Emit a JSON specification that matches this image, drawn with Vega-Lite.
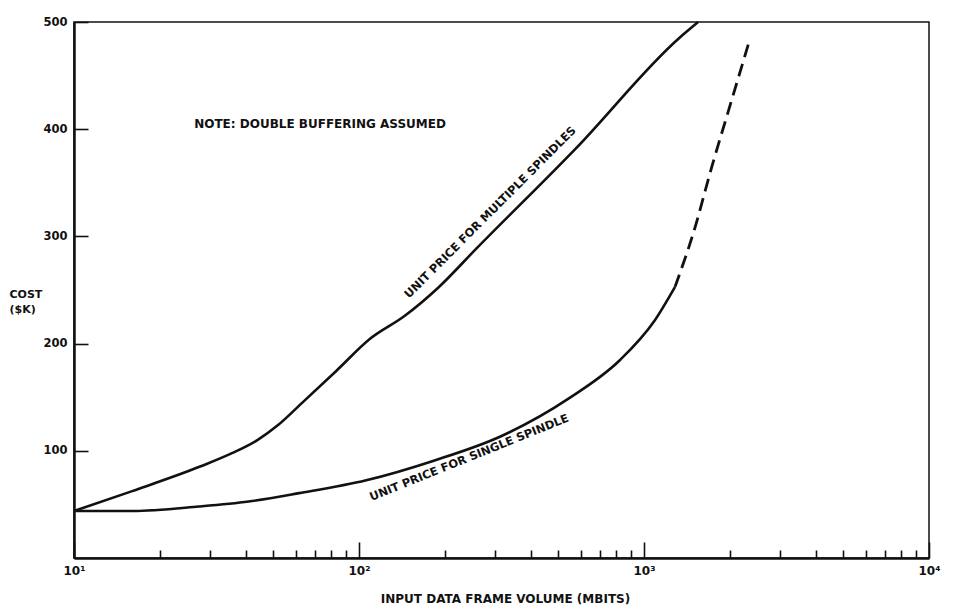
{
  "$schema": "https://vega.github.io/schema/vega-lite/v6.json",
  "width": 855,
  "height": 536,
  "autosize": {"type": "none"},
  "padding": {"left": 74, "top": 22, "right": 26, "bottom": 54},
  "background": "white",
  "config": {
    "view": {"stroke": "#111", "strokeWidth": 1.5},
    "font": "DejaVu Sans"
  },
  "datasets": {
    "curves": [
      {"series": "multiple", "segment": "solid", "volume": 10, "cost": 43.8},
      {"series": "multiple", "segment": "solid", "volume": 16, "cost": 62.4},
      {"series": "multiple", "segment": "solid", "volume": 27.7, "cost": 85.3},
      {"series": "multiple", "segment": "solid", "volume": 36, "cost": 98},
      {"series": "multiple", "segment": "solid", "volume": 44, "cost": 110},
      {"series": "multiple", "segment": "solid", "volume": 52, "cost": 124},
      {"series": "multiple", "segment": "solid", "volume": 63, "cost": 144.5},
      {"series": "multiple", "segment": "solid", "volume": 83.2, "cost": 174.5},
      {"series": "multiple", "segment": "solid", "volume": 109.6, "cost": 204.7},
      {"series": "multiple", "segment": "solid", "volume": 144, "cost": 225.5},
      {"series": "multiple", "segment": "solid", "volume": 190, "cost": 252.4},
      {"series": "multiple", "segment": "solid", "volume": 258, "cost": 288.6},
      {"series": "multiple", "segment": "solid", "volume": 577, "cost": 382.1},
      {"series": "multiple", "segment": "solid", "volume": 1327, "cost": 484.9},
      {"series": "multiple", "segment": "solid", "volume": 1549, "cost": 500},
      {"series": "single", "segment": "solid", "volume": 10, "cost": 43.8},
      {"series": "single", "segment": "solid", "volume": 16, "cost": 43.8},
      {"series": "single", "segment": "solid", "volume": 27.4, "cost": 48},
      {"series": "single", "segment": "solid", "volume": 41, "cost": 52.7},
      {"series": "single", "segment": "solid", "volume": 61.7, "cost": 60.5},
      {"series": "single", "segment": "solid", "volume": 106, "cost": 72.5},
      {"series": "single", "segment": "solid", "volume": 183, "cost": 90.8},
      {"series": "single", "segment": "solid", "volume": 315, "cost": 113.6},
      {"series": "single", "segment": "solid", "volume": 545, "cost": 148.9},
      {"series": "single", "segment": "solid", "volume": 824, "cost": 184.7},
      {"series": "single", "segment": "solid", "volume": 1087, "cost": 221.1},
      {"series": "single", "segment": "solid", "volume": 1285, "cost": 253},
      {"series": "single", "segment": "dashed", "volume": 1285, "cost": 253},
      {"series": "single", "segment": "dashed", "volume": 1493, "cost": 304},
      {"series": "single", "segment": "dashed", "volume": 1734, "cost": 366},
      {"series": "single", "segment": "dashed", "volume": 2014, "cost": 424},
      {"series": "single", "segment": "dashed", "volume": 2334, "cost": 481}
    ],
    "notes": [
      {"key": "note", "label": "NOTE: DOUBLE BUFFERING ASSUMED", "volume": 73, "cost": 405},
      {"key": "multiple", "label": "UNIT PRICE FOR MULTIPLE SPINDLES", "volume": 290, "cost": 322},
      {"key": "single", "label": "UNIT PRICE FOR SINGLE SPINDLE", "volume": 244, "cost": 93}
    ]
  },
  "layer": [
    {
      "data": {"name": "curves"},
      "transform": [{"filter": "datum.segment == 'solid'"}],
      "mark": {"type": "line", "color": "#111", "strokeWidth": 2.6, "interpolate": "monotone"},
      "encoding": {
        "x": {
          "field": "volume", "type": "quantitative",
          "scale": {"type": "log", "domain": [10, 10000], "nice": false},
          "axis": {
            "values": [10, 20, 30, 40, 50, 60, 70, 80, 90, 100, 200, 300, 400, 500, 600, 700, 800, 900, 1000, 2000, 3000, 4000, 5000, 6000, 7000, 8000, 9000, 10000],
            "labelExpr": "datum.value == 10 ? '10¹' : datum.value == 100 ? '10²' : datum.value == 1000 ? '10³' : datum.value == 10000 ? '10⁴' : ''",
            "tickSize": {"condition": {"test": "datum.value == 10 || datum.value == 100 || datum.value == 1000 || datum.value == 10000", "value": -16}, "value": -8},
            "labelPadding": 23,
            "tickColor": "#111",
            "tickWidth": 1.6,
            "domainColor": "#111",
            "domainWidth": 2.5,
            "grid": false,
            "labelFontSize": 12,
            "labelFontWeight": "bold",
            "labelColor": "#111",
            "labelFlush": false,
            "labelOverlap": false,
            "title": "INPUT DATA FRAME VOLUME (MBITS)",
            "titleFontSize": 12,
            "titleFontWeight": "bold",
            "titleColor": "#111",
            "titleBaseline": "middle",
            "titleX": 431,
            "titleY": 40
          }
        },
        "y": {
          "field": "cost", "type": "quantitative",
          "scale": {"domain": [0, 500], "nice": false},
          "axis": {
            "values": [100, 200, 300, 400, 500],
            "tickSize": -14,
            "labelPadding": 21,
            "tickColor": "#111",
            "tickWidth": 1.6,
            "domainColor": "#111",
            "domainWidth": 2.5,
            "grid": false,
            "labelFontSize": 11.5,
            "labelFontWeight": "bold",
            "labelColor": "#111",
            "labelFlush": false,
            "title": ["COST", "($K)"],
            "titleAngle": 0,
            "titleAlign": "left",
            "titleBaseline": "top",
            "titleX": -65,
            "titleY": 266,
            "titleFontSize": 11,
            "titleFontWeight": "bold",
            "titleColor": "#111",
            "titleLineHeight": 15
          }
        },
        "detail": {"field": "series"}
      }
    },
    {
      "data": {"name": "curves"},
      "transform": [{"filter": "datum.segment == 'dashed'"}],
      "mark": {"type": "line", "color": "#111", "strokeWidth": 2.8, "strokeDash": [13, 7], "interpolate": "monotone"},
      "encoding": {
        "x": {"field": "volume", "type": "quantitative"},
        "y": {"field": "cost", "type": "quantitative"},
        "detail": {"field": "series"}
      }
    },
    {
      "data": {"name": "notes"},
      "transform": [{"filter": "datum.key == 'note'"}],
      "mark": {"type": "text", "color": "#111", "fontSize": 12, "fontWeight": "bold", "align": "center", "baseline": "middle"},
      "encoding": {
        "x": {"field": "volume", "type": "quantitative"},
        "y": {"field": "cost", "type": "quantitative"},
        "text": {"field": "label"}
      }
    },
    {
      "data": {"name": "notes"},
      "transform": [{"filter": "datum.key == 'multiple'"}],
      "mark": {"type": "text", "color": "#111", "fontSize": 11.5, "fontWeight": "bold", "align": "center", "baseline": "middle", "angle": -45},
      "encoding": {
        "x": {"field": "volume", "type": "quantitative"},
        "y": {"field": "cost", "type": "quantitative"},
        "text": {"field": "label"}
      }
    },
    {
      "data": {"name": "notes"},
      "transform": [{"filter": "datum.key == 'single'"}],
      "mark": {"type": "text", "color": "#111", "fontSize": 11.5, "fontWeight": "bold", "align": "center", "baseline": "middle", "angle": -22},
      "encoding": {
        "x": {"field": "volume", "type": "quantitative"},
        "y": {"field": "cost", "type": "quantitative"},
        "text": {"field": "label"}
      }
    }
  ]
}
